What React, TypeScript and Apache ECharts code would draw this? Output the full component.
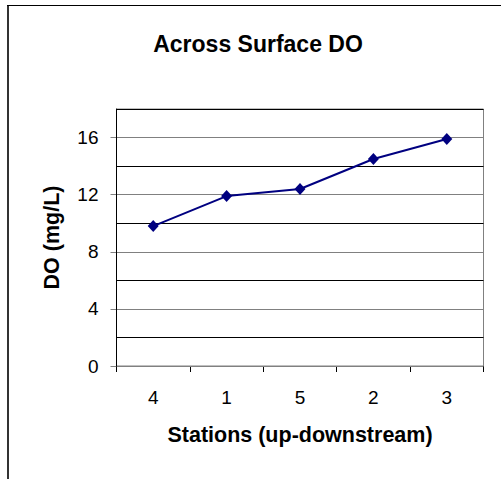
import React, { useEffect, useRef } from "react";
import * as echarts from "echarts";

const titleText = "Across Surface DO";
const xAxisTitle = "Stations (up-downstream)";
const yAxisTitle = "DO (mg/L)";
const stations = ["4", "1", "5", "2", "3"];
const doValues = [9.8, 11.9, 12.4, 14.5, 15.9];
const yTickLabels = [0, 4, 8, 12, 16];

const FONT = "'Liberation Sans', Arial, sans-serif";

export default function App() {
  const ref = useRef<HTMLDivElement>(null);
  useEffect(() => {
    document.body.style.margin = "0";
    const chart = echarts.init(ref.current!, undefined, { renderer: "svg" });
    chart.setOption({
      animation: false,
      backgroundColor: "#ffffff",
      textStyle: { fontFamily: FONT },
      graphic: [
        {
          type: "line",
          shape: { x1: 8, y1: 5, x2: 8, y2: 479 },
          style: { stroke: "#333", lineWidth: 2 },
          silent: true,
        },
        {
          type: "line",
          shape: { x1: 7, y1: 5.5, x2: 501, y2: 5.5 },
          style: { stroke: "#000", lineWidth: 1 },
          silent: true,
        },
        {
          type: "text",
          x: 258,
          y: 44,
          style: {
            text: titleText,
            fontFamily: FONT,
            fontWeight: "bold",
            fontSize: 23,
            fill: "#000",
            textAlign: "center",
            textVerticalAlign: "middle",
          },
        },
      ],
      grid: {
        left: 116.5,
        right: 17.5,
        top: 109,
        bottom: 113,
        show: true,
        borderColor: "#808080",
        borderWidth: 1,
        backgroundColor: "transparent",
      },
      xAxis: {
        type: "category",
        data: stations,
        boundaryGap: true,
        name: xAxisTitle,
        nameLocation: "middle",
        nameGap: 58,
        nameTextStyle: { fontFamily: FONT, fontWeight: "bold", fontSize: 21.5, color: "#000" },
        axisLine: { lineStyle: { color: "#000", width: 1 } },
        axisTick: { show: true, length: 6, alignWithLabel: false, lineStyle: { color: "#000" } },
        axisLabel: { fontFamily: FONT, fontSize: 19, color: "#000", margin: 22 },
        splitLine: { show: false },
      },
      yAxis: [
        {
          type: "value",
          min: 0,
          max: 18,
          interval: 2,
          position: "left",
          name: yAxisTitle,
          nameLocation: "middle",
          nameRotate: 90,
          nameGap: 54,
          nameTextStyle: { fontFamily: FONT, fontWeight: "bold", fontSize: 21.5, color: "#000" },
          axisLine: { show: true, lineStyle: { color: "#000", width: 1 } },
          axisTick: { show: false },
          axisLabel: { show: false },
          splitLine: {
            show: true,
            lineStyle: { color: ["#808080", "#000000"], width: 1 },
          },
          z: 1,
        },
        {
          type: "value",
          min: 0,
          max: 18,
          interval: 2,
          position: "left",
          axisLine: { show: false },
          axisTick: {
            show: true,
            length: 6,
            customValues: yTickLabels,
            lineStyle: { color: "#808080" },
          },
          axisLabel: {
            fontFamily: FONT,
            fontSize: 19,
            color: "#000",
            margin: 18,
            customValues: yTickLabels,
          },
          splitLine: { show: false },
        },
      ],
      series: [
        {
          type: "line",
          yAxisIndex: 0,
          data: doValues,
          symbol: "diamond",
          symbolSize: [11, 12],
          itemStyle: { color: "#000080" },
          lineStyle: { color: "#000080", width: 2 },
          z: 5,
        },
      ],
    });
    return () => chart.dispose();
  }, []);
  return <div ref={ref} style={{ width: 501, height: 479 }} />;
}
